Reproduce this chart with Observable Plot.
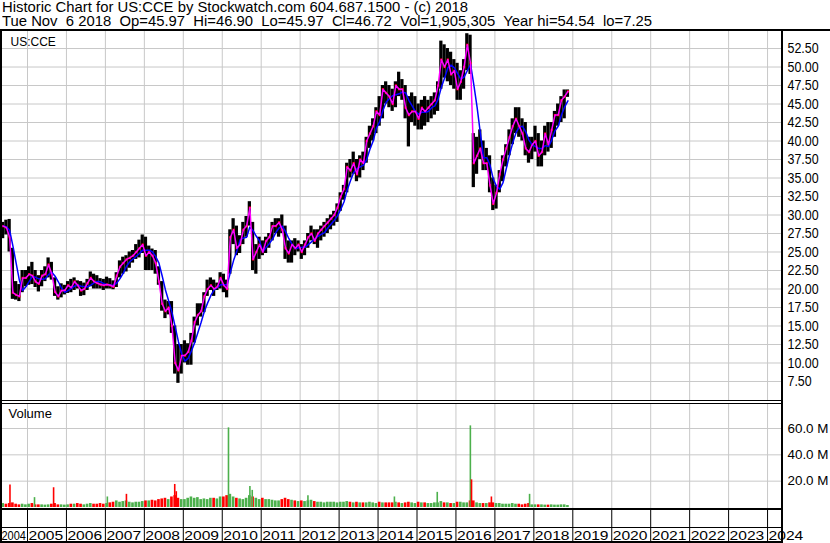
<!DOCTYPE html>
<html><head><meta charset="utf-8">
<script src="https://cdn.jsdelivr.net/npm/d3@7"></script>
<script src="https://cdn.jsdelivr.net/npm/@observablehq/plot@0.6"></script>
<style>
body{margin:0;background:#fff}
#wrap{position:relative;width:830px;height:543px;overflow:hidden;background:#fff;font-family:"Liberation Sans",Arial,sans-serif}
#hdr{position:absolute;left:2px;top:0px;font-size:14px;line-height:14px;white-space:pre;color:#000;transform:scaleX(1.06);transform-origin:0 0}
.pl{position:absolute;left:0}
.ln{position:absolute;background:#000}
</style></head><body>
<div id="wrap">
<div id="hdr"></div>
<div id="price" class="pl" style="top:31px"></div>
<div id="vol" class="pl" style="top:403px"></div>
</div>
<script>
// ---- header texts ----
const headerLines = [
  "Historic Chart for US:CCE by Stockwatch.com 604.687.1500 - (c) 2018",
  "Tue Nov  6 2018  Op=45.97  Hi=46.90  Lo=45.97  Cl=46.72  Vol=1,905,305  Year hi=54.54  lo=7.25"
];
const symbolLabel = "US:CCE";
const volumeLabel = "Volume";

// ---- monthly data, first month May 2004 ----
const firstYear = 2004, firstMonth = 5;
const high = [
  29.0,29.3,29.4,25.5,21.0,20.6,22.5,22.5,
  23.0,23.6,22.5,21.8,22.5,23.0,24.2,23.6,21.5,20.3,20.7,20.5,
  21.0,21.3,21.5,21.1,21.0,20.8,21.3,22.3,22.0,21.8,21.4,21.3,
  21.6,21.4,21.1,22.2,23.8,24.3,24.5,25.0,25.2,26.0,26.6,27.3,
  27.0,25.8,25.4,25.2,23.0,21.0,18.5,18.3,18.3,15.0,12.5,12.5,
  13.0,12.6,14.0,16.2,18.0,18.0,19.5,21.2,21.5,21.2,20.8,22.2,
  22.0,21.2,28.0,29.5,28.5,27.2,29.0,29.8,31.8,29.0,26.0,27.0,
  26.5,27.0,27.5,29.0,29.5,29.5,30.0,28.5,26.5,26.5,26.8,26.5,
  26.0,26.5,27.5,28.5,28.0,28.0,28.5,29.0,29.5,30.0,30.5,31.5,
  33.0,34.0,37.0,37.5,38.5,37.5,38.0,38.5,40.5,42.0,43.0,44.5,
  46.0,47.5,48.0,47.5,47.0,48.0,49.3,48.3,47.5,46.0,46.5,46.0,
  45.0,45.5,46.0,45.5,46.0,46.5,48.0,53.5,53.0,52.5,52.0,51.0,
  50.5,49.5,51.0,54.5,54.3,41.0,40.5,41.5,40.0,39.0,38.0,35.0,
  34.0,36.0,38.0,39.5,41.5,43.0,44.5,44.5,43.0,42.5,40.5,40.5,
  42.0,41.0,40.0,42.0,42.5,42.5,44.0,45.0,46.0,46.9,46.9
];
const low = [
  26.8,27.3,25.0,18.6,18.5,18.3,19.5,20.3,
  20.5,20.6,20.2,19.6,20.3,21.0,21.5,21.2,19.0,18.5,18.8,19.2,
  19.4,19.5,19.8,20.0,19.0,19.1,19.8,20.3,20.0,20.0,20.0,19.8,
  20.0,20.0,19.9,20.2,21.5,22.0,22.3,22.8,23.5,24.0,24.2,24.8,
  22.5,22.5,22.5,22.0,20.5,17.0,16.0,16.5,14.0,8.5,7.25,8.5,
  10.0,9.7,9.7,12.7,15.0,16.2,16.8,19.0,19.8,19.0,19.8,20.0,
  19.5,18.8,22.0,26.0,24.5,24.8,26.0,27.0,28.5,22.5,22.0,24.0,
  24.5,24.8,25.5,26.5,27.5,27.0,27.5,24.0,23.5,23.5,24.5,25.0,
  24.0,24.5,25.5,26.5,26.0,25.5,26.5,27.0,27.5,28.0,28.5,29.0,
  30.5,32.0,33.0,35.0,35.5,34.5,35.0,36.0,37.0,39.0,40.0,41.0,
  42.0,43.0,45.0,44.5,44.0,44.5,46.0,45.5,43.0,39.2,42.5,42.0,
  41.5,41.5,42.0,42.5,43.0,43.5,44.0,47.0,48.5,48.0,47.5,47.0,
  45.5,45.5,47.0,49.5,49.0,33.7,35.5,37.5,36.0,36.0,33.0,30.6,
  30.8,33.0,34.5,36.5,38.0,39.5,41.0,40.5,40.0,38.0,37.0,37.5,
  38.5,36.5,36.5,38.0,38.5,39.0,40.5,42.0,42.5,43.0,45.9
];
const close = [
  28.5,28.3,27.0,19.5,19.2,19.0,21.5,21.5,
  22.0,21.8,21.0,20.7,21.8,22.0,23.3,22.0,19.6,19.0,19.8,19.8,
  20.5,20.2,21.0,20.5,19.8,20.0,20.8,21.5,21.0,20.8,20.6,20.5,
  20.6,20.5,20.3,21.8,23.0,23.5,24.0,24.2,24.5,25.0,25.5,26.0,
  24.5,25.0,24.5,23.5,21.0,18.0,17.0,17.5,15.0,10.0,9.0,11.0,
  11.0,11.5,13.0,15.5,16.5,17.0,19.0,20.0,20.5,20.0,20.3,21.5,
  20.5,20.0,27.0,28.0,25.5,26.0,28.0,28.5,31.0,24.0,25.0,26.0,
  25.0,26.5,27.0,28.5,28.5,29.0,28.0,25.5,24.8,26.0,25.5,26.0,
  25.0,26.0,27.0,27.5,26.5,27.5,28.0,28.5,29.0,29.5,30.0,31.0,
  32.5,33.5,36.5,36.0,37.0,35.5,37.5,37.0,40.0,41.0,42.0,44.0,
  43.5,47.0,46.5,46.0,45.0,47.5,47.0,47.0,44.5,43.5,44.0,44.0,
  43.0,44.5,44.0,44.5,45.0,45.5,47.5,51.0,50.0,51.0,49.0,49.5,
  47.0,48.0,50.0,53.0,50.5,37.0,38.0,39.0,37.0,37.0,34.0,31.5,
  33.0,35.5,37.5,39.0,40.5,42.0,43.0,42.0,41.0,39.0,38.5,39.5,
  40.0,38.0,38.5,41.0,39.5,41.5,43.5,43.5,45.5,46.0,46.7
];
// typical daily volume per month (millions)
const volume = [
  3,2.5,3,3.5,2.5,2,2.5,2,
  2.5,3,2,2,2,1.8,2,2.5,3,2,2,1.8,
  2,2.5,2.5,3,2.5,2,2.5,3,2.5,2.5,3,2.5,
  3,3.5,4,5,4,4.5,5,4,3.5,4,4,4.5,
  5,5,5.5,5,6,6.5,7,6,8,9,7,6,
  6,7,8,7,7.5,6,6.5,6,7,7,6.5,8,
  8,9,10,8,7,6.5,6,7,9,8,7,6,
  7,6,6,5.5,5,5,6,7,6,5.5,5,4.5,
  5,4.5,5,5.5,4.5,4,4,3.5,4,4,4,3.5,
  4,4,4.5,4,3.5,4,3.5,3.5,3.5,4,3.5,3,
  4,3.5,3.5,3.5,3.5,4,3.5,3,3.5,4,3.5,3,
  4,3.5,3.5,3,3,3.5,3.5,4.5,3.5,3.5,3,3,
  4,4,3.5,3.5,5,5,3.5,3,3,3,3.5,3.5,
  3,3,2.5,2.5,2.5,3,2.5,2.5,2,2.5,3,2,
  2,2,2,1.8,1.8,2,1.8,1.8,2,2,1.5
];
// single-day volume spikes
const spikeDates  = [2004.55,2005.18,2005.67,2007.05,2007.54,2008.78,2008.82,2010.16,2010.71,2010.77,2012.20,2014.42,2015.52,2016.37,2016.40,2016.91,2017.89];
const spikeVolume = [17,7.5,15,8,10,17.5,12,60.5,16,13,9,8,11.5,62,21,8,10];
const spikeUp     = [false,true,false,true,false,false,false,true,true,true,true,true,true,true,false,false,true];

const priceTicks = [7.5,10,12.5,15,17.5,20,22.5,25,27.5,30,32.5,35,37.5,40,42.5,45,47.5,50,52.5];
const volumeTicks = [20,40,60];
const yearTicks = d3.range(2005, 2025);
const firstYearLabel = "2004";

// ---- build tables ----
const bars = high.map((h, i) => {
  const m = firstMonth - 1 + i;
  const t = firstYear + m / 12;
  return {t, t2: t + 1/12, tm: t + 1/24, hi: h, lo: low[i], cl: close[i], v: volume[i],
          up: i === 0 ? true : close[i] >= close[i-1]};
});
const spikes = spikeDates.map((t, i) => ({t, v: spikeVolume[i], up: spikeUp[i]}));

const GREEN = "#4cb04c", RED = "#ff0000", GRID = "#c8c8c8";
const xDomain = [2004.3068, 2024.3838];
const font = '"Liberation Sans", Arial, sans-serif';

document.getElementById("hdr").textContent = headerLines.join("\n");

const pricePlot = Plot.plot({
  width: 830, height: 372, marginLeft: 0, marginRight: 48, marginTop: 0, marginBottom: 3,
  x: {domain: xDomain, axis: null},
  y: {domain: [4.93, 54.8], axis: null},
  style: {background: "transparent", fontFamily: font, overflow: "visible"},
  marks: [
    Plot.ruleX(yearTicks, {stroke: GRID, strokeWidth: 1}),
    Plot.ruleY(priceTicks, {stroke: GRID, strokeWidth: 1}),
    Plot.rect(bars, {x1: "t", x2: "t2", y1: "lo", y2: "hi", fill: "#000"}),
    Plot.dot(bars, {x: "tm", y: "cl", symbol: "square", r: 1.3, fill: RED}),
    Plot.lineY(bars, Plot.windowY({k: 4, anchor: "end", reduce: "mean"}, {x: "tm", y: "cl", stroke: "#0000ff", strokeWidth: 1.5})),
    Plot.lineY(bars, {x: "tm", y: "cl", stroke: "#ff00ff", strokeWidth: 1.5}),
    Plot.axisY(priceTicks, {anchor: "right", label: null, tickSize: 0, tickPadding: 5, tickFormat: d => d.toFixed(2), fontSize: 15, fill: "#000"}),
    Plot.text([symbolLabel], {frameAnchor: "top-left", dx: 10, dy: 11, fontSize: 12, fill: "#000", textAnchor: "start", lineAnchor: "middle"})
  ]
});
document.getElementById("price").append(pricePlot);

const volPlot = Plot.plot({
  width: 830, height: 140, marginLeft: 0, marginRight: 48, marginTop: 0, marginBottom: 34,
  x: {domain: xDomain, axis: null},
  y: {domain: [-1.52, 79], axis: null},
  color: {type: "identity"},
  style: {background: "transparent", fontFamily: font, overflow: "visible"},
  marks: [
    Plot.ruleX(yearTicks, {y1: -1.52, y2: 79, stroke: GRID, strokeWidth: 1}),
    Plot.ruleY(volumeTicks, {stroke: GRID, strokeWidth: 1}),
    Plot.rect(bars, {x1: "t", x2: "t2", y1: 0, y2: "v", fill: d => d.up ? GREEN : RED, insetLeft: 0.3, insetRight: 0.3}),
    Plot.ruleX(spikes, {x: "t", y1: 0, y2: "v", stroke: d => d.up ? GREEN : RED, strokeWidth: 1.6}),
    Plot.axisY(volumeTicks, {anchor: "right", label: null, tickSize: 0, tickPadding: 5, tickFormat: d => d.toFixed(1) + " M", fontSize: 13.4, fill: "#000"}),
    Plot.text([volumeLabel], {frameAnchor: "top-left", dx: 8, dy: 10, fontSize: 13, fill: "#000", textAnchor: "start", lineAnchor: "middle"}),
    Plot.axisX(yearTicks, {tickSize: 34, stroke: "#000", tickFormat: () => "", label: null}),
    Plot.text(yearTicks, {x: d => d, text: d => String(d), frameAnchor: "bottom", dy: 26, dx: 1, textAnchor: "start", lineAnchor: "middle", fontSize: 13, fill: "#000"}),
    Plot.text([firstYearLabel], {frameAnchor: "bottom-left", dy: 26, dx: 1, textAnchor: "start", lineAnchor: "middle", fontSize: 13, fill: "#000"})
  ]
});
document.getElementById("vol").append(volPlot);

// glyph proportions as in the reference (narrow price labels, wide year labels)
function stretch(root, re, k, fixed) {
  d3.select(root).selectAll("text").filter(function() { return re.test(this.textContent.trim()); }).each(function() {
    const w = this.getComputedTextLength();
    if (w > 0) {
      this.setAttribute("textLength", (fixed || w * k).toFixed(1));
      this.setAttribute("lengthAdjust", "spacingAndGlyphs");
    }
  });
}
stretch(pricePlot, /^\d+\.\d\d$/, 0.83);
stretch(volPlot, /^20(0[5-9]|1\d|2\d)$/, 1.2);
stretch(volPlot, /^2004$/, 1, 24.5);

// frame lines
const wrap = document.getElementById("wrap");
function line(l, t, w, h) {
  const d = document.createElement("div");
  d.className = "ln";
  Object.assign(d.style, {left: l + "px", top: t + "px", width: w + "px", height: h + "px"});
  wrap.append(d);
}
line(0, 29, 830, 2);     // under header
line(0, 29, 2, 514);     // left
line(781, 29, 2, 514);   // right
line(0, 400, 782, 1);    // double separator
line(0, 403, 782, 1);
line(0, 508, 782, 2);    // volume bottom
line(0, 527, 782, 1);    // label band
line(0, 541, 782, 2);    // bottom
</script>
</body></html>
